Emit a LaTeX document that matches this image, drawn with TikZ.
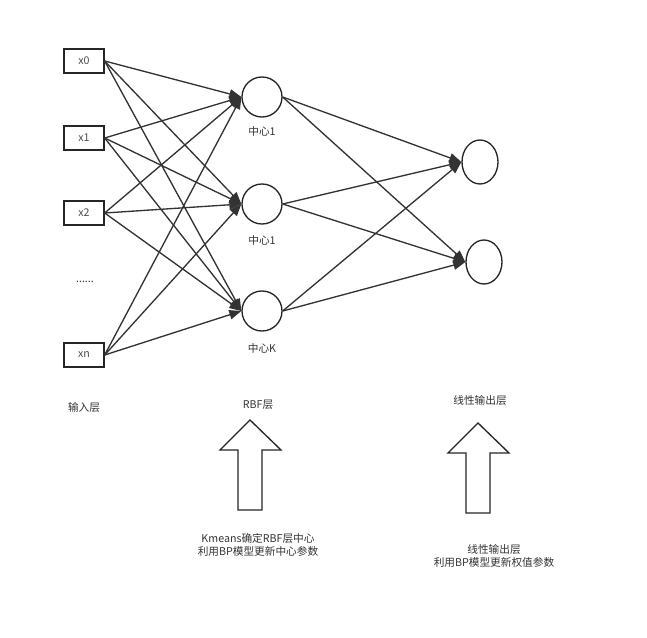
\documentclass[tikz,border=0pt]{standalone}
\usepackage{fontspec}
\setmainfont{Noto Sans CJK SC}
\usetikzlibrary{arrows.meta,shapes.geometric}
\begin{document}
\begin{tikzpicture}[x=0.75pt,y=-0.75pt,
  box/.style={draw=black!85,line width=1pt,minimum width=30pt,minimum height=18pt,inner sep=0,font=\fontsize{8}{9}\selectfont,text=black!70},
  hid/.style={draw=black!85,line width=1pt,circle,minimum size=30pt,inner sep=0},
  outn/.style={draw=black!85,line width=1pt,ellipse,minimum width=27pt,minimum height=33pt,inner sep=0},
  lbl/.style={font=\fontsize{8}{10}\selectfont,text=black!80,align=center},
  conn/.style={draw=black!80,line width=1pt,-{Triangle[length=9pt,width=7pt]}},
  big/.style={draw=black!85,line width=1pt,fill=white}]
\useasboundingbox (0,0) rectangle (647,638);
\node[box] (x0) at (84,61) {x0};
\node[box] (x1) at (84,138) {x1};
\node[box] (x2) at (84,213) {x2};
\node[box] (xn) at (84,355) {xn};
\node[lbl] (dots) at (85,282) {......};
\node[hid] (h1) at (262,97) {};
\node[hid] (h2) at (262,204) {};
\node[hid] (h3) at (262,311) {};
\node[outn] (o1) at (480,162) {};
\node[outn] (o2) at (484,262) {};
\node[lbl] (l1) at (262,131) {中心1};
\node[lbl] (l2) at (262,240) {中心1};
\node[lbl] (l3) at (262,348) {中心K};
\foreach \s in {x0,x1,x2,xn}{\foreach \t in {h1,h2,h3}{\draw[conn] (\s.east) -- (\t.west);}}
\foreach \s in {h1,h2,h3}{\foreach \t in {o1,o2}{\draw[conn] (\s.east) -- (\t.west);}}
\node[lbl] (t1) at (84,407) {输入层};
\node[lbl] (t2) at (258,405) {RBF层};
\node[lbl] (t3) at (480,400) {线性输出层};
\draw[big] (238,510) -- (238,450) -- (220,450) -- (250,420) -- (281,450) -- (262,450) -- (262,510) -- cycle;
\draw[big] (466,513) -- (466,453) -- (448,453) -- (478,423) -- (509,453) -- (490,453) -- (490,513) -- cycle;
\node[lbl] (d1) at (258,545) {Kmeans确定RBF层中心\\利用BP模型更新中心参数};
\node[lbl] (d2) at (494,556) {线性输出层\\利用BP模型更新权值参数};
\end{tikzpicture}
\end{document}
